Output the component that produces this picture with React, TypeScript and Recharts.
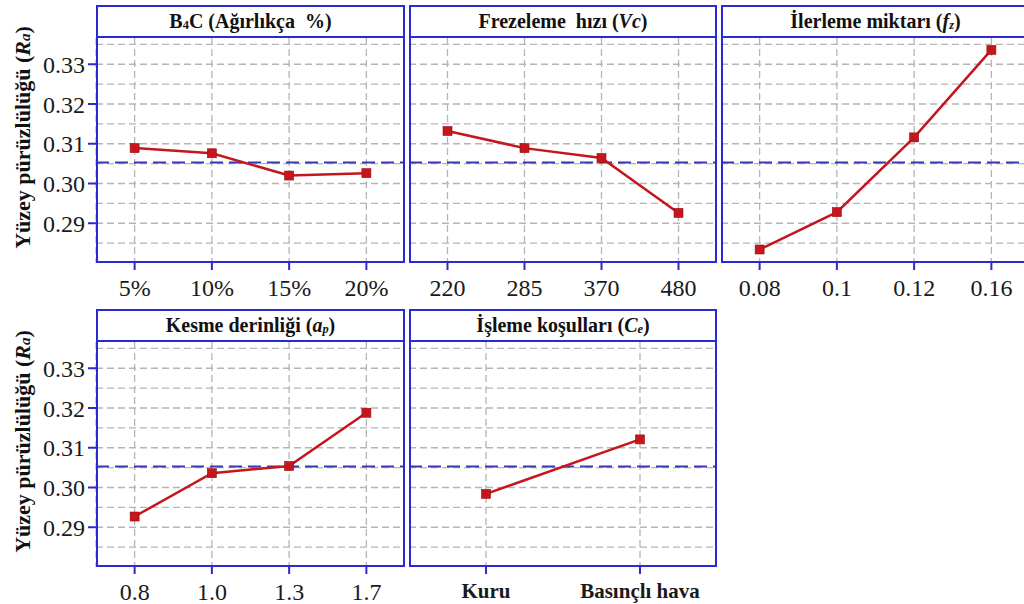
import React from 'react';
import { LineChart, Line, XAxis, YAxis, CartesianGrid, ReferenceLine } from 'recharts';

// Factor levels and mean Ra response for each factor
const b4cLevels = ['5%', '10%', '15%', '20%'];
const b4cRa = [0.3089, 0.3076, 0.302, 0.3026];

const speedLevels = ['220', '285', '370', '480'];
const speedRa = [0.3132, 0.3089, 0.3064, 0.2926];

const feedLevels = ['0.08', '0.1', '0.12', '0.16'];
const feedRa = [0.2834, 0.2928, 0.3116, 0.3336];

const depthLevels = ['0.8', '1.0', '1.3', '1.7'];
const depthRa = [0.2927, 0.3036, 0.3054, 0.3188];

const coolLevels = ['Kuru', 'Basınçlı hava'];
const coolRa = [0.2984, 0.3121];

const grandMean = 0.3053;
const yTicks = [0.29, 0.3, 0.31, 0.32, 0.33];
const gridValues = [0.285, 0.29, 0.295, 0.3, 0.305, 0.31, 0.315, 0.32, 0.325, 0.33, 0.335];
const yDomain: [number, number] = [0.28, 0.3366];

const BLUE = '#2a2ad4';
const MEAN_BLUE = '#3838b0';
const RED = '#c4161c';
const GRID = '#b5b5b5';
const FONT = '"Liberation Serif", "Times New Roman", serif';

const HEADER_H = 33;
const PLOT_H = 225;
const AXIS_W = 96;
const XAXIS_H = 45;

const YTitle = (props: any) => {
  const vb = props.viewBox || { x: 0, y: 0, width: 0, height: 0 };
  const cx = vb.x + 22;
  const cy = vb.y + vb.height / 2 - 13;
  return (
    <text
      x={cx}
      y={cy}
      transform={`rotate(-90, ${cx}, ${cy})`}
      textAnchor="middle"
      dominantBaseline="central"
      fontFamily={FONT}
      fontWeight="bold"
      fontSize={22}
      fill="#111"
    >
      Yüzey pürüzlülüğü (<tspan fontStyle="italic">R</tspan>
      <tspan fontStyle="italic" fontSize={15} dy={3}>a</tspan>
      <tspan dy={-3}>)</tspan>
    </text>
  );
};

const SquareDot = (p: any) => (
  <rect
    key={`dot-${p.index}`}
    x={p.cx - 4.5}
    y={p.cy - 4.5}
    width={9}
    height={9}
    fill={RED}
    stroke="#9a0c10"
    strokeWidth={0.6}
  />
);

interface PanelProps {
  title: React.ReactNode;
  levels: string[];
  values: number[];
  x: number; // plot left
  y: number; // header top
  w: number; // plot width
  withAxis?: boolean;
  boldTicks?: boolean;
}

const Panel: React.FC<PanelProps> = ({ title, levels, values, x, y, w, withAxis, boldTicks }) => {
  const data = levels.map((level, i) => ({ level, ra: values[i] }));
  const pad = w / (2 * levels.length);
  const chartW = w + (withAxis ? AXIS_W : 0);
  const chartH = HEADER_H + PLOT_H + XAXIS_H;

  return (
    <>
      <div
        style={{
          position: 'absolute',
          left: withAxis ? x - AXIS_W : x,
          top: y,
          width: chartW,
          height: chartH,
        }}
      >
        <LineChart width={chartW} height={chartH} data={data} margin={{ top: HEADER_H, right: 0, bottom: 0, left: 0 }}>
          <CartesianGrid stroke={GRID} strokeWidth={1.3} strokeDasharray="7 4" horizontal={false} />
          {gridValues.map((v) => (
            <ReferenceLine key={v} y={v} stroke={GRID} strokeWidth={1.3} strokeDasharray="7 4" />
          ))}
          <XAxis
            dataKey="level"
            padding={{ left: pad, right: pad }}
            height={XAXIS_H}
            axisLine={false}
            tickLine={{ stroke: BLUE, strokeWidth: 2 }}
            tickSize={7}
            tickMargin={9}
            interval={0}
            tick={{
              fontFamily: FONT,
              fontSize: boldTicks ? 21 : 24,
              fontWeight: boldTicks ? 'bold' : 'normal',
              fill: '#1a1a1a',
            }}
          />
          <YAxis
            hide={!withAxis}
            width={AXIS_W}
            domain={yDomain}
            allowDataOverflow
            ticks={yTicks}
            tickFormatter={(v: number) => v.toFixed(2)}
            axisLine={false}
            tickLine={{ stroke: BLUE, strokeWidth: 2 }}
            tickSize={8}
            tickMargin={3}
            tick={{ fontFamily: FONT, fontSize: 24, fill: '#1a1a1a' }}
            label={withAxis ? <YTitle /> : undefined}
          />
          <ReferenceLine y={grandMean} stroke={MEAN_BLUE} strokeWidth={2} strokeDasharray="13 6" />
          <Line
            type="linear"
            dataKey="ra"
            stroke={RED}
            strokeWidth={2.5}
            dot={SquareDot}
            activeDot={false}
            isAnimationActive={false}
          />
        </LineChart>
      </div>
      <div
        style={{
          position: 'absolute',
          left: x,
          top: y,
          width: w,
          height: HEADER_H + PLOT_H,
          border: `2px solid ${BLUE}`,
          boxSizing: 'border-box',
          pointerEvents: 'none',
        }}
      >
        <div
          style={{
            height: HEADER_H - 2,
            borderBottom: `2px solid ${BLUE}`,
            boxSizing: 'border-box',
            display: 'flex',
            alignItems: 'center',
            justifyContent: 'center',
            fontFamily: FONT,
            fontWeight: 'bold',
            fontSize: 20,
            color: '#111',
            whiteSpace: 'pre',
          }}
        >
          {title}
        </div>
      </div>
    </>
  );
};

const sub: React.CSSProperties = { fontSize: '0.62em', verticalAlign: '-0.12em' };

export default function App() {
  return (
    <div
      style={{
        position: 'absolute',
        left: 0,
        top: 0,
        width: 1024,
        height: 604,
        overflow: 'hidden',
        background: '#fff',
        fontFamily: FONT,
      }}
    >
      <Panel
        title={<span>B<span style={sub}>4</span>C (Ağırlıkça  %)</span>}
        levels={b4cLevels}
        values={b4cRa}
        x={96}
        y={5}
        w={309}
        withAxis
      />
      <Panel
        title={<span>Frezeleme  hızı (<i>Vc</i>)</span>}
        levels={speedLevels}
        values={speedRa}
        x={409}
        y={5}
        w={308}
      />
      <Panel
        title={<span>İlerleme miktarı (<i>f<span style={sub}>z</span></i>)</span>}
        levels={feedLevels}
        values={feedRa}
        x={721}
        y={5}
        w={309}
      />
      <Panel
        title={<span>Kesme derinliği (<i>a<span style={sub}>p</span></i>)</span>}
        levels={depthLevels}
        values={depthRa}
        x={96}
        y={309}
        w={309}
        withAxis
      />
      <Panel
        title={<span>İşleme koşulları (<i>C<span style={sub}>e</span></i>)</span>}
        levels={coolLevels}
        values={coolRa}
        x={409}
        y={309}
        w={308}
        boldTicks
      />
    </div>
  );
}
